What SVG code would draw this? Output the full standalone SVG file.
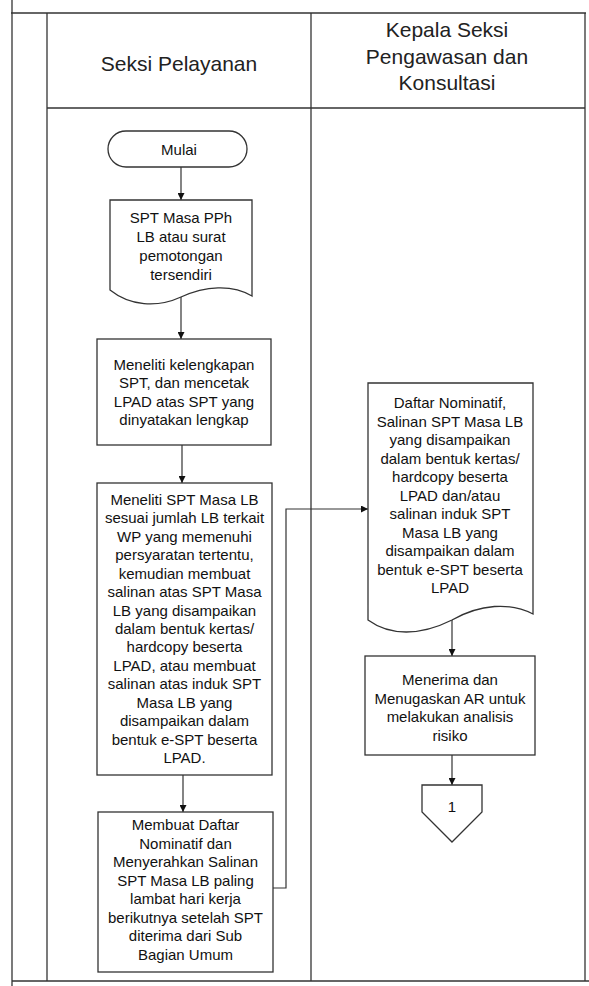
<svg xmlns="http://www.w3.org/2000/svg" width="589" height="986" viewBox="0 0 589 986">
<style>
.frame{stroke:#333;stroke-width:1.3;fill:none}
.shape{stroke:#333;stroke-width:1.3;fill:#fff}
.conn{stroke:#333;stroke-width:1.2;fill:none}
.hdr{font-family:"Liberation Sans",Arial,sans-serif;font-size:21px;fill:#222;text-anchor:middle}
.t{font-family:"Liberation Sans",Arial,sans-serif;font-size:15px;fill:#111;text-anchor:middle}
</style>
<defs>
<marker id="arr" viewBox="0 0 10 10" refX="10" refY="5" markerWidth="7" markerHeight="7" orient="auto" markerUnits="userSpaceOnUse">
<path d="M0,0 L10,5 L0,10 Z" fill="#111"/>
</marker>
</defs>
<rect width="589" height="986" fill="#fff"/>
<g id="frame">
<line class="frame" x1="12" y1="0" x2="12" y2="986"/>
<line class="frame" x1="47" y1="13" x2="47" y2="981"/>
<line class="frame" x1="11" y1="13" x2="586" y2="13"/>
<line class="frame" x1="585" y1="13" x2="585" y2="981"/>
<line class="frame" x1="311" y1="13" x2="311" y2="981"/>
<line class="frame" x1="47" y1="108" x2="585" y2="108"/>
<line class="frame" x1="12" y1="981" x2="589" y2="981"/>
</g>
<g id="lane-headers">
<text class="hdr" x="179" y="71">Seksi Pelayanan</text>
<text class="hdr" x="447" y="37">Kepala Seksi</text>
<text class="hdr" x="447" y="64">Pengawasan dan</text>
<text class="hdr" x="447" y="90">Konsultasi</text>
</g>
<g id="connectors">
<line class="conn" x1="181" y1="167" x2="181" y2="200" marker-end="url(#arr)"/>
<line class="conn" x1="181" y1="297" x2="181" y2="339" marker-end="url(#arr)"/>
<line class="conn" x1="182" y1="445" x2="182" y2="483" marker-end="url(#arr)"/>
<line class="conn" x1="183" y1="775" x2="183" y2="812" marker-end="url(#arr)"/>
<polyline class="conn" points="273,888 286,888 286,509 368,509" marker-end="url(#arr)"/>
<line class="conn" x1="452" y1="620" x2="452" y2="656" marker-end="url(#arr)"/>
<line class="conn" x1="452" y1="755" x2="452" y2="785" marker-end="url(#arr)"/>
</g>
<g id="mulai">
<rect class="shape" x="108" y="131" width="139" height="36" rx="18"/>
<text class="t" x="179" y="155">Mulai</text>
</g>
<g id="doc-spt">
<path class="shape" d="M110,200 H252 V296 C232,284 205,286 181,297 C157,308 130,306 110,290 Z"/>
<text class="t" x="181" y="223">SPT Masa PPh</text>
<text class="t" x="181" y="242">LB atau surat</text>
<text class="t" x="181" y="261">pemotongan</text>
<text class="t" x="181" y="280">tersendiri</text>
</g>
<g id="box-meneliti">
<rect class="shape" x="97" y="339" width="174" height="106"/>
<text class="t" x="184" y="370">Meneliti kelengkapan</text>
<text class="t" x="184" y="388">SPT, dan mencetak</text>
<text class="t" x="184" y="407">LPAD atas SPT yang</text>
<text class="t" x="184" y="425">dinyatakan lengkap</text>
</g>
<g id="box-salinan">
<rect class="shape" x="97" y="483" width="175" height="292"/>
<text class="t" x="184.5" y="505">Meneliti SPT Masa LB</text>
<text class="t" x="184.5" y="523.4">sesuai jumlah LB terkait</text>
<text class="t" x="184.5" y="541.9">WP yang memenuhi</text>
<text class="t" x="184.5" y="560.3">persyaratan tertentu,</text>
<text class="t" x="184.5" y="578.7">kemudian membuat</text>
<text class="t" x="184.5" y="597.2">salinan atas SPT Masa</text>
<text class="t" x="184.5" y="615.6">LB yang disampaikan</text>
<text class="t" x="184.5" y="634">dalam bentuk kertas/</text>
<text class="t" x="184.5" y="652.4">hardcopy beserta</text>
<text class="t" x="184.5" y="670.9">LPAD, atau membuat</text>
<text class="t" x="184.5" y="689.3">salinan atas induk SPT</text>
<text class="t" x="184.5" y="707.7">Masa LB yang</text>
<text class="t" x="184.5" y="726.1">disampaikan dalam</text>
<text class="t" x="184.5" y="744.6">bentuk e-SPT beserta</text>
<text class="t" x="184.5" y="763">LPAD.</text>
</g>
<g id="box-daftar">
<rect class="shape" x="98" y="812" width="175" height="160"/>
<text class="t" x="185.5" y="830">Membuat Daftar</text>
<text class="t" x="185.5" y="848.6">Nominatif dan</text>
<text class="t" x="185.5" y="867.1">Menyerahkan Salinan</text>
<text class="t" x="185.5" y="885.7">SPT Masa LB paling</text>
<text class="t" x="185.5" y="904.3">lambat hari kerja</text>
<text class="t" x="185.5" y="922.9">berikutnya setelah SPT</text>
<text class="t" x="185.5" y="941.4">diterima dari Sub</text>
<text class="t" x="185.5" y="960">Bagian Umum</text>
</g>
<g id="doc-daftar">
<path class="shape" d="M368,383 H533 V614 C510,602 480,604 452,620 C420,636 390,636 368,620 Z"/>
<text class="t" x="450" y="408">Daftar Nominatif,</text>
<text class="t" x="450" y="426.5">Salinan SPT Masa LB</text>
<text class="t" x="450" y="445">yang disampaikan</text>
<text class="t" x="450" y="463.5">dalam bentuk kertas/</text>
<text class="t" x="450" y="482">hardcopy beserta</text>
<text class="t" x="450" y="500.5">LPAD dan/atau</text>
<text class="t" x="450" y="519">salinan induk SPT</text>
<text class="t" x="450" y="537.5">Masa LB yang</text>
<text class="t" x="450" y="556">disampaikan dalam</text>
<text class="t" x="450" y="574.5">bentuk e-SPT beserta</text>
<text class="t" x="450" y="593">LPAD</text>
</g>
<g id="box-menerima">
<rect class="shape" x="365" y="656" width="170" height="99"/>
<text class="t" x="450" y="685">Menerima dan</text>
<text class="t" x="450" y="703.5">Menugaskan AR untuk</text>
<text class="t" x="450" y="722">melakukan analisis</text>
<text class="t" x="450" y="740.5">risiko</text>
</g>
<g id="offpage-1">
<path class="shape" d="M422,785 H482 V812 L452,842 L422,812 Z"/>
<text class="t" x="452" y="812">1</text>
</g>
</svg>
